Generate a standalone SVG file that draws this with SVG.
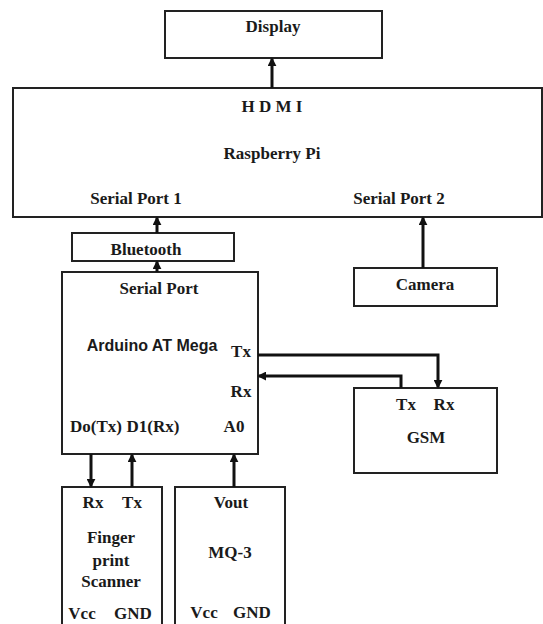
<svg xmlns="http://www.w3.org/2000/svg" width="543" height="624" viewBox="0 0 543 624">
<style>
.box{fill:#fff;stroke:#222;stroke-width:2}
.t{font-family:"Liberation Serif",serif;font-weight:bold;font-size:17px;fill:#1a1a1a;text-anchor:middle}
.s{font-family:"Liberation Sans",sans-serif;font-weight:bold;font-size:16px;fill:#1a1a1a;text-anchor:middle}
.c{fill:none;stroke:#111;stroke-width:3}
</style>
<defs>
<marker id="ah" viewBox="0 0 10 10" refX="8" refY="5" markerWidth="3" markerHeight="3" orient="auto" markerUnits="strokeWidth">
<path d="M0,0 L10,5 L0,10 z" fill="#111"/>
</marker>
</defs>
<rect width="543" height="624" fill="#fff"/>
<g id="display"><rect class="box" x="165" y="11" width="217" height="47"/><text class="t" x="273" y="32">Display</text></g>
<g id="raspberrypi"><rect class="box" x="13" y="88" width="529" height="129"/>
<text class="t" x="272" y="112" font-size="15">H D M I</text>
<text class="t" x="272" y="159">Raspberry Pi</text>
<text class="t" x="136" y="204">Serial Port 1</text>
<text class="t" x="399" y="204">Serial Port 2</text></g>
<g id="bluetooth"><rect class="box" x="72" y="233" width="162" height="28"/><text class="t" x="146" y="255" font-size="18">Bluetooth</text></g>
<g id="arduino"><rect class="box" x="62" y="272" width="196" height="182"/>
<text class="t" x="159" y="294">Serial Port</text>
<text class="s" x="152" y="351">Arduino AT Mega</text>
<text class="t" x="241" y="357">Tx</text>
<text class="t" x="241" y="397">Rx</text>
<text class="t" x="96" y="432">Do(Tx)</text>
<text class="t" x="153" y="432">D1(Rx)</text>
<text class="t" x="234" y="432">A0</text></g>
<g id="camera"><rect class="box" x="354" y="268" width="143" height="38"/><text class="t" x="425" y="290">Camera</text></g>
<g id="gsm"><rect class="box" x="354" y="388" width="143" height="85"/>
<text class="t" x="406" y="410">Tx</text>
<text class="t" x="444" y="410">Rx</text>
<text class="t" x="426" y="443" font-size="15">GSM</text></g>
<g id="fingerprint"><rect class="box" x="62" y="487" width="100" height="145"/>
<text class="t" x="93" y="508">Rx</text>
<text class="t" x="132" y="508">Tx</text>
<text class="t" x="111" y="543">Finger</text>
<text class="t" x="111" y="566">print</text>
<text class="t" x="111" y="587">Scanner</text>
<text class="t" x="82" y="619">Vcc</text>
<text class="t" x="133" y="619">GND</text></g>
<g id="mq3"><rect class="box" x="175" y="487" width="110" height="145"/>
<text class="t" x="231" y="508">Vout</text>
<text class="t" x="230" y="558">MQ-3</text>
<text class="t" x="204" y="618">Vcc</text>
<text class="t" x="252" y="618">GND</text></g>
<g id="connectors">
<path class="c" d="M272,88 V59" marker-end="url(#ah)"/>
<path class="c" d="M157,233 V218" marker-end="url(#ah)"/>
<path class="c" d="M157,272 V262" marker-end="url(#ah)"/>
<path class="c" d="M423,268 V218" marker-end="url(#ah)"/>
<path class="c" d="M258,355 H438 V387" marker-end="url(#ah)"/>
<path class="c" d="M401,388 V376 H259" marker-end="url(#ah)"/>
<path class="c" d="M91,454 V486" marker-end="url(#ah)"/>
<path class="c" d="M132,487 V455" marker-end="url(#ah)"/>
<path class="c" d="M234,487 V455" marker-end="url(#ah)"/>
</g>
</svg>
